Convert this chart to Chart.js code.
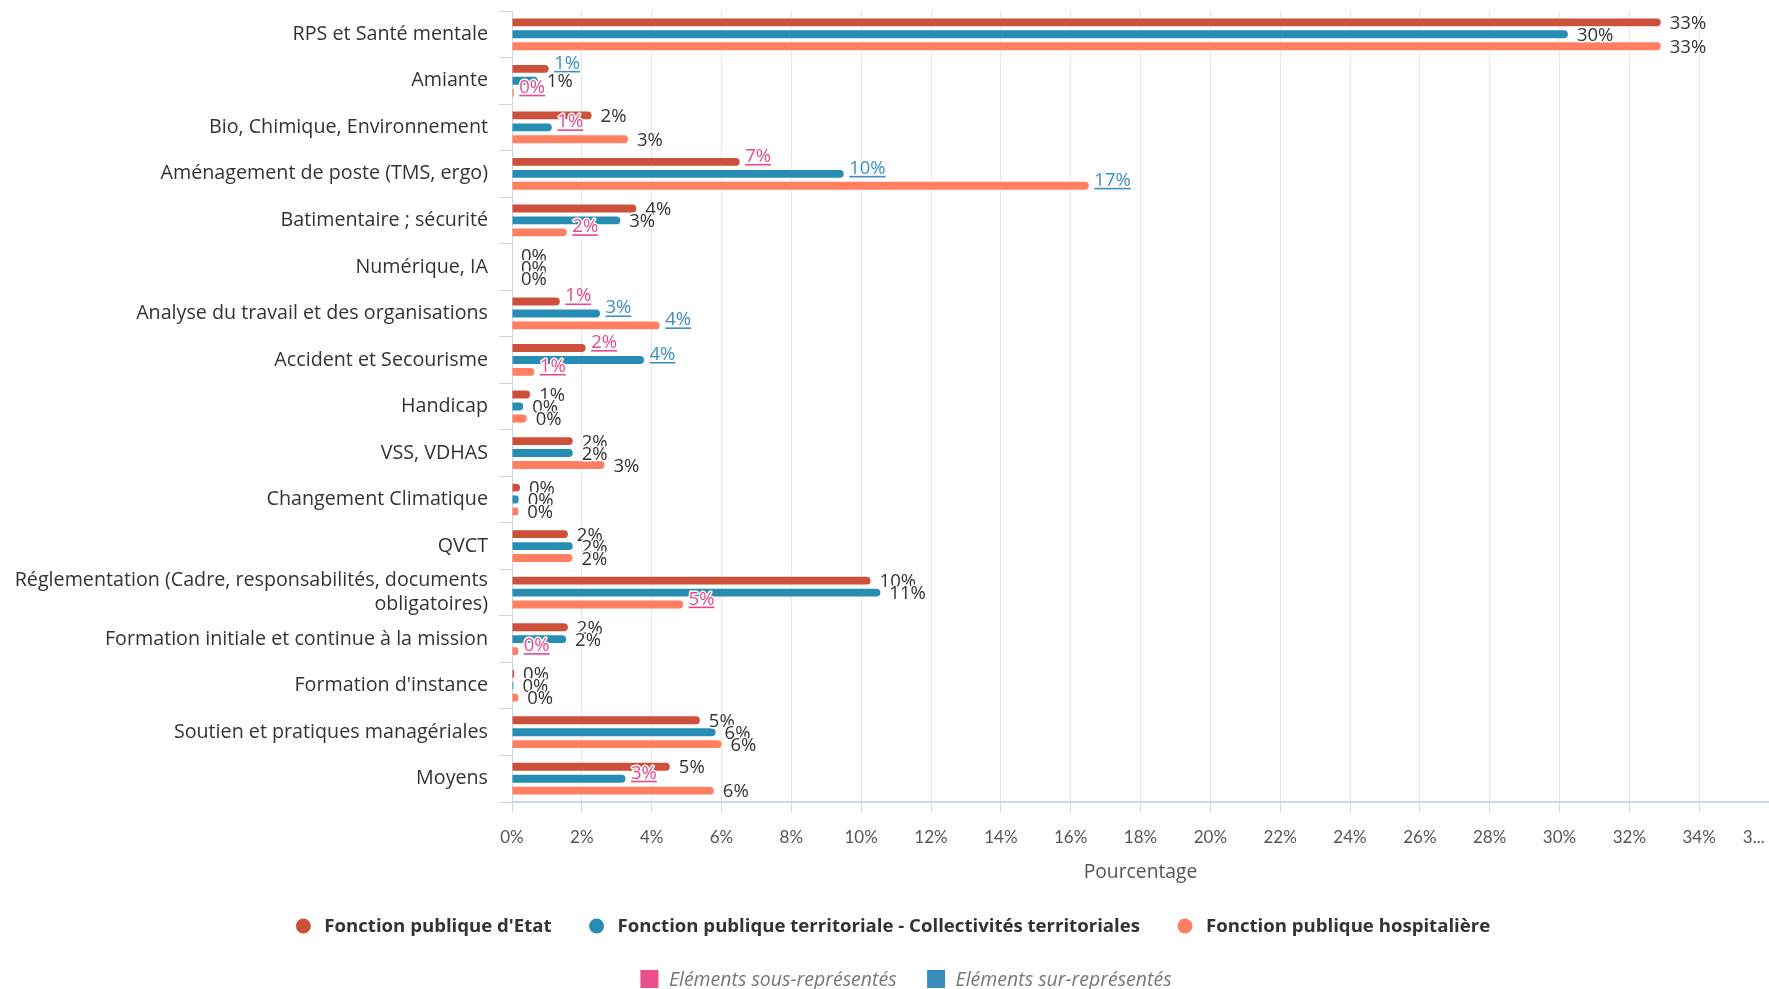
<!DOCTYPE html>
<html>
<head>
<meta charset="utf-8">
<script src="https://cdn.jsdelivr.net/npm/chart.js@4.4.1/dist/chart.umd.min.js"></script>
<style>
html,body{margin:0;padding:0;background:#fff;overflow:hidden}
#wrap{width:1769px;height:989px;position:relative}
canvas{display:block}
</style>
</head>
<body>
<div id="wrap"><canvas id="c" width="1769" height="989"></canvas></div>
<script>
// ---------- DATA ----------
const categories = [
  'RPS et Santé mentale',
  'Amiante',
  'Bio, Chimique, Environnement',
  'Aménagement de poste (TMS, ergo)',
  'Batimentaire ; sécurité',
  'Numérique, IA',
  'Analyse du travail et des organisations',
  'Accident et Secourisme',
  'Handicap',
  'VSS, VDHAS',
  'Changement Climatique',
  'QVCT',
  ['Réglementation (Cadre, responsabilités, documents', 'obligatoires)'],
  'Formation initiale et continue à la mission',
  "Formation d'instance",
  'Soutien et pratiques managériales',
  'Moyens'
];
const seriesNames = [
  "Fonction publique d'Etat",
  'Fonction publique territoriale - Collectivités territoriales',
  'Fonction publique hospitalière'
];
const valuesFPE = [32.9, 1.05, 2.28, 6.52, 3.56, 0, 1.37, 2.11, 0.52, 1.74, 0.23, 1.60, 10.27, 1.60, 0.06, 5.38, 4.52];
const valuesFPT = [30.24, 0.74, 1.14, 9.5, 3.10, 0, 2.52, 3.78, 0.32, 1.74, 0.19, 1.74, 10.55, 1.55, 0.04, 5.83, 3.25];
const valuesFPH = [32.9, 0.05, 3.32, 16.52, 1.57, 0, 4.23, 0.64, 0.42, 2.65, 0.18, 1.73, 4.9, 0.18, 0.18, 6.0, 5.78];
// 1 = élément sur-représenté, -1 = élément sous-représenté, 0 = neutre
const statusFPE = [0, 1, 0, -1, 0, 0, -1, -1, 0, 0, 0, 0, 0, 0, 0, 0, 0];
const statusFPT = [0, 0, -1, 1, 0, 0, 1, 1, 0, 0, 0, 0, 0, 0, 0, 0, -1];
const statusFPH = [0, -1, 0, 1, -1, 0, 1, -1, 0, 0, 0, 0, -1, -1, 0, 0, 0];
const xMin = 0;
const xMax = 36;
const xStep = 2;
const truncatedLastTick = '3...';
const axisTitle = 'Pourcentage';
const markerLegend = ['Eléments sous-représentés', 'Eléments sur-représentés'];

// ---------- STYLE ----------
const FONT = "'Open Sans', Lato, sans-serif";
const TICKFONT = "Lato, 'Open Sans', sans-serif";
const seriesColors = ['#cc503a', '#278db4', '#ff7f60'];
const PINK = '#e9498b';
const BLUE = '#3d8ec3';
const PINK_BOX = '#ec4f8a';
const BLUE_BOX = '#3a8bbd';

const dataLabelPlugin = {
  id: 'dataLabels',
  afterDatasetsDraw(chart) {
    const ctx = chart.ctx;
    chart.data.datasets.forEach((ds, i) => {
      const meta = chart.getDatasetMeta(i);
      meta.data.forEach((bar, j) => {
        const v = ds.data[j];
        const txt = Math.round(v) + '%';
        const st = ds.status[j];
        ctx.save();
        ctx.font = '18.5px ' + FONT;
        ctx.textAlign = 'left';
        ctx.textBaseline = 'alphabetic';
        let x, y, color;
        if (st === 0) { x = bar.x + 9; y = bar.y + 6.6; color = '#333333'; }
        else { x = bar.x + 5.5; y = bar.y; color = st > 0 ? BLUE : PINK; }
        ctx.lineJoin = 'round';
        ctx.strokeStyle = '#ffffff';
        ctx.lineWidth = 3;
        ctx.strokeText(txt, x, y);
        ctx.fillStyle = color;
        ctx.fillText(txt, x, y);
        if (st !== 0) {
          const w = ctx.measureText(txt).width;
          ctx.fillStyle = '#ffffff';
          ctx.fillRect(x - 1, y + 1, w + 2, 4);
          ctx.fillStyle = color;
          ctx.fillRect(x, y + 2, w, 1.6);
        }
        ctx.restore();
      });
    });
  }
};

const customLegendPlugin = {
  id: 'customLegend',
  afterDraw(chart) {
    const ctx = chart.ctx;
    ctx.save();
    // row 1: series
    ctx.font = 'bold 18.6px ' + FONT;
    ctx.textBaseline = 'middle';
    ctx.textAlign = 'left';
    const r = 7.5, gapText = 21, gapItem = 45;
    const widths = seriesNames.map(n => ctx.measureText(n).width);
    let total = r;
    widths.forEach((w, i) => { total += gapText + w + (i < widths.length - 1 ? gapItem : 0); });
    let cx = 893 - total / 2 + r;
    const y1 = 926;
    seriesNames.forEach((n, i) => {
      ctx.fillStyle = seriesColors[i];
      ctx.beginPath(); ctx.arc(cx, y1, r, 0, Math.PI * 2); ctx.fill();
      ctx.fillStyle = '#333333';
      ctx.fillText(n, cx + gapText, y1 + 1);
      cx += gapText + widths[i] + gapItem;
    });
    // row 2: markers
    ctx.font = 'italic 19.5px ' + FONT;
    const sq = 18, gapT = 10.5, gapI = 30.5;
    const w2 = markerLegend.map(n => ctx.measureText(n).width);
    const total2 = sq + gapT + w2[0] + gapI + sq + gapT + w2[1];
    let x = 906 - total2 / 2;
    const y2 = 979;
    [PINK_BOX, BLUE_BOX].forEach((c, i) => {
      ctx.fillStyle = c;
      ctx.fillRect(x, y2 - sq / 2, sq, sq);
      ctx.fillStyle = '#777777';
      ctx.fillText(markerLegend[i], x + sq + gapT, y2 + 1);
      x += sq + gapT + w2[i] + gapI;
    });
    ctx.restore();
  }
};

const ctx = document.getElementById('c').getContext('2d');
new Chart(ctx, {
  type: 'bar',
  data: {
    labels: categories,
    datasets: [
      { label: seriesNames[0], data: valuesFPE, status: statusFPE, backgroundColor: seriesColors[0] },
      { label: seriesNames[1], data: valuesFPT, status: statusFPT, backgroundColor: seriesColors[1] },
      { label: seriesNames[2], data: valuesFPH, status: statusFPH, backgroundColor: seriesColors[2] }
    ]
  },
  options: {
    indexAxis: 'y',
    responsive: false,
    animation: false,
    layout: { padding: { top: 11, right: 0, bottom: 97, left: 0 } },
    datasets: { bar: { categoryPercentage: 0.77, barPercentage: 0.66, borderRadius: 4, borderSkipped: 'start' } },
    plugins: { legend: { display: false }, tooltip: { enabled: false } },
    scales: {
      x: {
        min: xMin, max: xMax,
        ticks: {
          stepSize: xStep, autoSkip: false, maxRotation: 0,
          color: '#555555', font: { family: TICKFONT, size: 17 }, padding: 15,
          callback: (v) => v === xMax ? truncatedLastTick + '\u00a0\u00a0\u00a0\u00a0\u00a0\u00a0\u00a0' : v + '%'
        },
        grid: { color: '#e6e6e6', tickColor: '#ccd6eb', tickLength: 10 },
        border: { color: '#ccd6eb', width: 2 },
        title: { display: true, text: axisTitle, color: '#555555', font: { family: FONT, size: 19.3 }, padding: { top: 10, bottom: 8 } },
        afterFit(s) { s.paddingRight = 0; s.paddingLeft = 0; s.height = 90; }
      },
      y: {
        ticks: { autoSkip: false, color: '#333333', font: { family: FONT, size: 19.7, lineHeight: 1.2 }, padding: 11 },
        grid: { drawOnChartArea: false, tickLength: 13, tickColor: '#ccd6eb', offset: true },
        border: { color: '#ccd6eb', width: 1 },
        afterFit(s) { s.width = 512; s.paddingTop = 0; s.paddingBottom = 0; }
      }
    }
  },
  plugins: [dataLabelPlugin, customLegendPlugin]
});
</script>
</body>
</html>
